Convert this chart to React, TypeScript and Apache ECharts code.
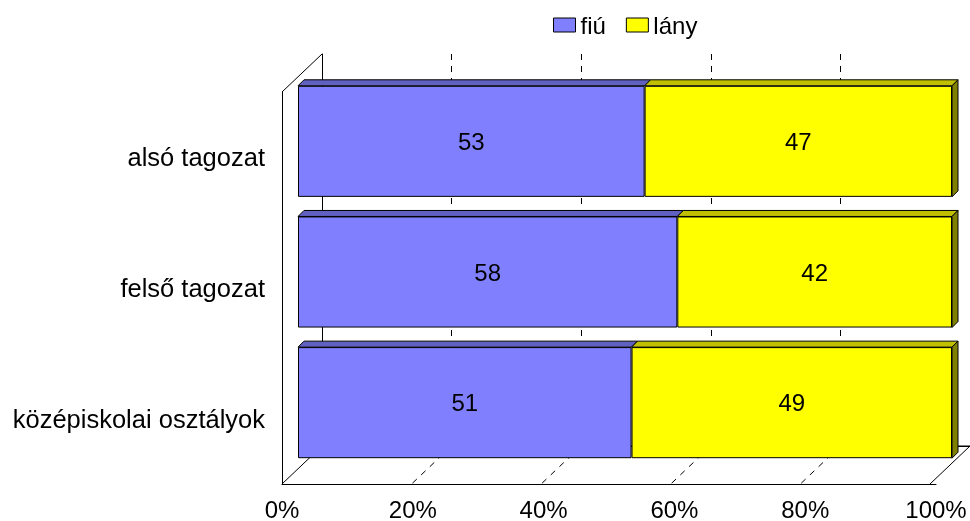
import React, { useEffect, useRef } from "react";
import * as echarts from "echarts";

const categories = ["alsó tagozat", "felső tagozat", "középiskolai osztályok"];
const seriesNames = ["fiú", "lány"];
const fiu = [53, 58, 51];
const lany = [47, 42, 49];
const xTicks = [0, 20, 40, 60, 80, 100];

export default function App() {
  const ref = useRef<HTMLDivElement>(null);
  useEffect(() => {
    const chart = echarts.init(ref.current!, null, { renderer: "svg" });
    const FONT = "'Liberation Sans', Arial, sans-serif";
    const DX = -40;
    const DY = 38;
    const BD = 6;
    const colors = ["#8080FF", "#FFFF00"];
    const topColors = ["#6060C0", "#C0C000"];
    const sideColors = ["#4040A0", "#808000"];
    const all = [fiu, lany];
    const segs: number[][] = [];
    categories.forEach((_, i) => {
      let start = 0;
      all.forEach((arr, s) => {
        segs.push([start, start + arr[i], i, s]);
        start += arr[i];
      });
    });

    const option: any = {
      animation: false,
      textStyle: { fontFamily: FONT },
      legend: {
        data: seriesNames,
        top: 13,
        left: 553,
        padding: 0,
        itemWidth: 22,
        itemHeight: 14,
        itemGap: 20,
        icon: "rect",
        itemStyle: { borderColor: "#000", borderWidth: 1 },
        textStyle: { fontSize: 24, color: "#000", fontFamily: FONT, lineHeight: 24 },
      },
      grid: [
        { left: 322, top: 54, width: 652, height: 392 },
        { left: 282, top: 92, width: 654, height: 392 },
        { left: 298, top: 76, width: 654, height: 392 },
      ],
      xAxis: [
        {
          gridIndex: 0,
          type: "value",
          min: 0,
          max: 100,
          interval: 20,
          position: "top",
          axisLine: { show: true, lineStyle: { color: "#000", width: 1 } },
          axisTick: { show: false },
          axisLabel: { show: false },
          splitLine: { show: true, lineStyle: { color: "#000", width: 1, type: [6, 6] } },
        },
        {
          gridIndex: 1,
          type: "value",
          min: 0,
          max: 100,
          interval: 20,
          axisLine: { show: true, onZero: false, lineStyle: { color: "#000", width: 1 } },
          axisTick: { show: false },
          axisLabel: { show: true, formatter: "{value}%", fontSize: 24, color: "#000", margin: 13, fontFamily: FONT },
          splitLine: { show: false },
        },
        {
          gridIndex: 2,
          type: "value",
          min: 0,
          max: 100,
          show: false,
          splitLine: { show: false },
        },
      ],
      yAxis: [
        {
          gridIndex: 0,
          type: "value",
          min: 0,
          max: 1,
          axisLine: { show: true, lineStyle: { color: "#000", width: 1 } },
          axisTick: { show: false },
          axisLabel: { show: false },
          splitLine: { show: false },
        },
        {
          gridIndex: 1,
          type: "category",
          data: categories,
          inverse: true,
          axisLine: { show: true, lineStyle: { color: "#000", width: 1 } },
          axisTick: { show: false },
          axisLabel: { fontSize: 25.5, color: "#000", margin: 17, fontFamily: FONT },
        },
        {
          gridIndex: 2,
          type: "category",
          data: categories,
          inverse: true,
          show: false,
        },
      ],
      series: [
        {
          type: "custom",
          name: "floor",
          xAxisIndex: 0,
          yAxisIndex: 0,
          silent: true,
          data: xTicks.map((v) => [v, 0]),
          encode: { x: 0, y: 1 },
          renderItem: (params: any, api: any) => {
            const v = api.value(0);
            const b = api.coord([v, 0]);
            const edge = v === xTicks[0] || v === xTicks[xTicks.length - 1];
            return {
              type: "line",
              shape: { x1: b[0], y1: b[1], x2: b[0] + DX, y2: b[1] + DY },
              style: { stroke: "#000", lineWidth: 1, lineDash: edge ? null : [6, 6], fill: null },
            };
          },
        },
        {
          type: "custom",
          name: "walls",
          xAxisIndex: 0,
          yAxisIndex: 0,
          silent: true,
          data: [[0, 1]],
          encode: { x: 0, y: 1 },
          renderItem: (params: any, api: any) => {
            const tl = api.coord([0, 1]);
            const bl = api.coord([0, 0]);
            const br = api.coord([100, 0]);
            return {
              type: "group",
              children: [
                {
                  type: "line",
                  shape: { x1: tl[0], y1: tl[1], x2: tl[0] + DX, y2: tl[1] + DY },
                  style: { stroke: "#000", lineWidth: 1 },
                },
                {
                  type: "line",
                  shape: { x1: bl[0], y1: bl[1], x2: br[0], y2: br[1] },
                  style: { stroke: "#000", lineWidth: 1 },
                },
              ],
            };
          },
        },
        ...all.map((arr, s) => ({
          type: "bar",
          name: seriesNames[s],
          xAxisIndex: 2,
          yAxisIndex: 2,
          stack: "total",
          barCategoryGap: "15%",
          data: arr,
          itemStyle: { color: colors[s], borderColor: "#000", borderWidth: 1 },
          label: { show: true, position: "inside", fontSize: 24, color: "#000", fontFamily: FONT, formatter: "{c}" },
          emphasis: { disabled: true },
        })),
        {
          type: "custom",
          name: "depth",
          xAxisIndex: 2,
          yAxisIndex: 2,
          silent: true,
          data: segs,
          encode: { x: [0, 1], y: 2 },
          renderItem: (params: any, api: any) => {
            const start = api.value(0);
            const end = api.value(1);
            const cat = api.value(2);
            const s = api.value(3);
            const p0 = api.coord([start, cat]);
            const p1 = api.coord([end, cat]);
            const h = api.size([0, 1])[1] * 0.85;
            const yTop = p0[1] - h / 2;
            const yBot = p0[1] + h / 2;
            const children: any[] = [
              {
                type: "polygon",
                shape: {
                  points: [
                    [p0[0], yTop],
                    [p1[0], yTop],
                    [p1[0] + BD, yTop - BD],
                    [p0[0] + BD, yTop - BD],
                  ],
                },
                style: { fill: topColors[s], stroke: "#000", lineWidth: 1 },
              },
            ];
            if (s === all.length - 1) {
              children.push({
                type: "polygon",
                shape: {
                  points: [
                    [p1[0], yTop],
                    [p1[0], yBot],
                    [p1[0] + BD, yBot - BD],
                    [p1[0] + BD, yTop - BD],
                  ],
                },
                style: { fill: sideColors[s], stroke: "#000", lineWidth: 1 },
              });
            }
            return { type: "group", children };
          },
        },
      ],
    };
    chart.setOption(option);
    return () => chart.dispose();
  }, []);
  return <div ref={ref} style={{ position: "fixed", left: 0, top: 0, width: 970, height: 521 }} />;
}
